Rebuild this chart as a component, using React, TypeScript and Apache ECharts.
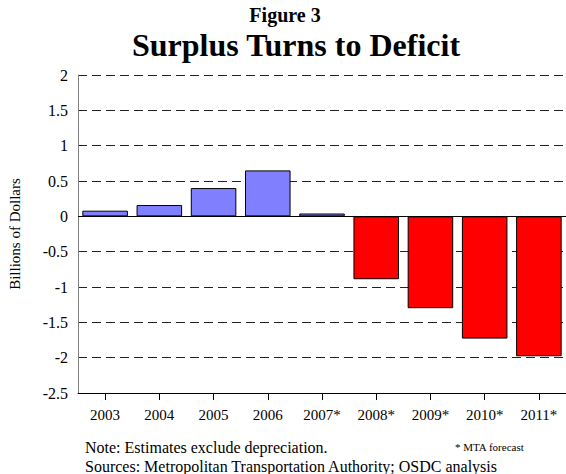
import React, { useEffect, useRef } from "react";
import * as echarts from "echarts";

const categories = ["2003", "2004", "2005", "2006", "2007*", "2008*", "2009*", "2010*", "2011*"];
const values = [0.08, 0.16, 0.4, 0.65, 0.04, -0.89, -1.3, -1.73, -1.98];
const yTicks = { min: -2.5, max: 2, interval: 0.5 };
const titleTop = "Figure 3";
const titleMain = "Surplus Turns to Deficit";
const yName = "Billions of Dollars";
const noteText = "Note: Estimates exclude depreciation.";
const sourceText = "Sources: Metropolitan Transportation Authority; OSDC analysis";
const forecastText = "* MTA forecast";

const FONT = "'Liberation Serif', 'Times New Roman', serif";

export default function App() {
  const ref = useRef<HTMLDivElement>(null);
  useEffect(() => {
    if (!ref.current) return;
    const chart = echarts.init(ref.current, undefined, { renderer: "svg" });
    chart.setOption({
      animation: false,
      backgroundColor: "#ffffff",
      textStyle: { fontFamily: FONT },
      grid: { left: 78, top: 75, height: 318, width: 493 },
      xAxis: {
        type: "category",
        data: categories,
        axisLine: { onZero: false, lineStyle: { color: "#000", width: 1 } },
        axisTick: { show: true, alignWithLabel: true, length: 7, lineStyle: { color: "#000" } },
        axisLabel: { color: "#000", fontSize: 15, margin: 14, fontFamily: FONT, interval: 0 },
        splitLine: { show: false },
      },
      yAxis: {
        type: "value",
        min: yTicks.min,
        max: yTicks.max,
        interval: yTicks.interval,
        axisLine: { show: true, lineStyle: { color: "#808080", width: 1 } },
        axisTick: { show: false },
        axisLabel: { color: "#000", fontSize: 16, margin: 10, fontFamily: FONT },
        splitLine: { show: true, lineStyle: { color: "#222", type: [9, 5], width: 1 } },
      },
      series: [
        {
          type: "bar",
          barCategoryGap: "16%",
          data: values.map((v) => ({
            value: v,
            itemStyle: { color: v >= 0 ? "#8080FF" : "#FF0000", borderColor: "#000", borderWidth: 1 },
          })),
          markLine: {
            silent: true,
            symbol: "none",
            label: { show: false },
            lineStyle: { color: "#000", type: "solid", width: 1 },
            data: [{ yAxis: 0 }],
            z: 10,
          },
        },
      ],
      graphic: [
        {
          type: "text",
          x: 285,
          y: 15,
          style: { text: titleTop, font: `bold 20px ${FONT}`, fill: "#000", align: "center", verticalAlign: "middle" },
        },
        {
          type: "text",
          x: 296,
          y: 45,
          style: { text: titleMain, font: `bold 32px ${FONT}`, fill: "#000", align: "center", verticalAlign: "middle" },
        },
        {
          type: "text",
          x: 15,
          y: 234,
          rotation: Math.PI / 2,
          style: { text: yName, font: `15px ${FONT}`, fill: "#000", align: "center", verticalAlign: "middle" },
        },
        {
          type: "text",
          x: 85,
          y: 447.5,
          style: { text: noteText, font: `16px ${FONT}`, fill: "#000", align: "left", verticalAlign: "middle" },
        },
        {
          type: "text",
          x: 85,
          y: 466,
          style: { text: sourceText, font: `16px ${FONT}`, fill: "#000", align: "left", verticalAlign: "middle" },
        },
        {
          type: "text",
          x: 455,
          y: 447.3,
          style: { text: forecastText, font: `11px ${FONT}`, fill: "#000", align: "left", verticalAlign: "middle" },
        },
      ],
    });
    return () => chart.dispose();
  }, []);
  return (
    <div
      ref={ref}
      style={{ position: "fixed", left: 0, top: 0, width: 566, height: 474, background: "#fff" }}
    />
  );
}
